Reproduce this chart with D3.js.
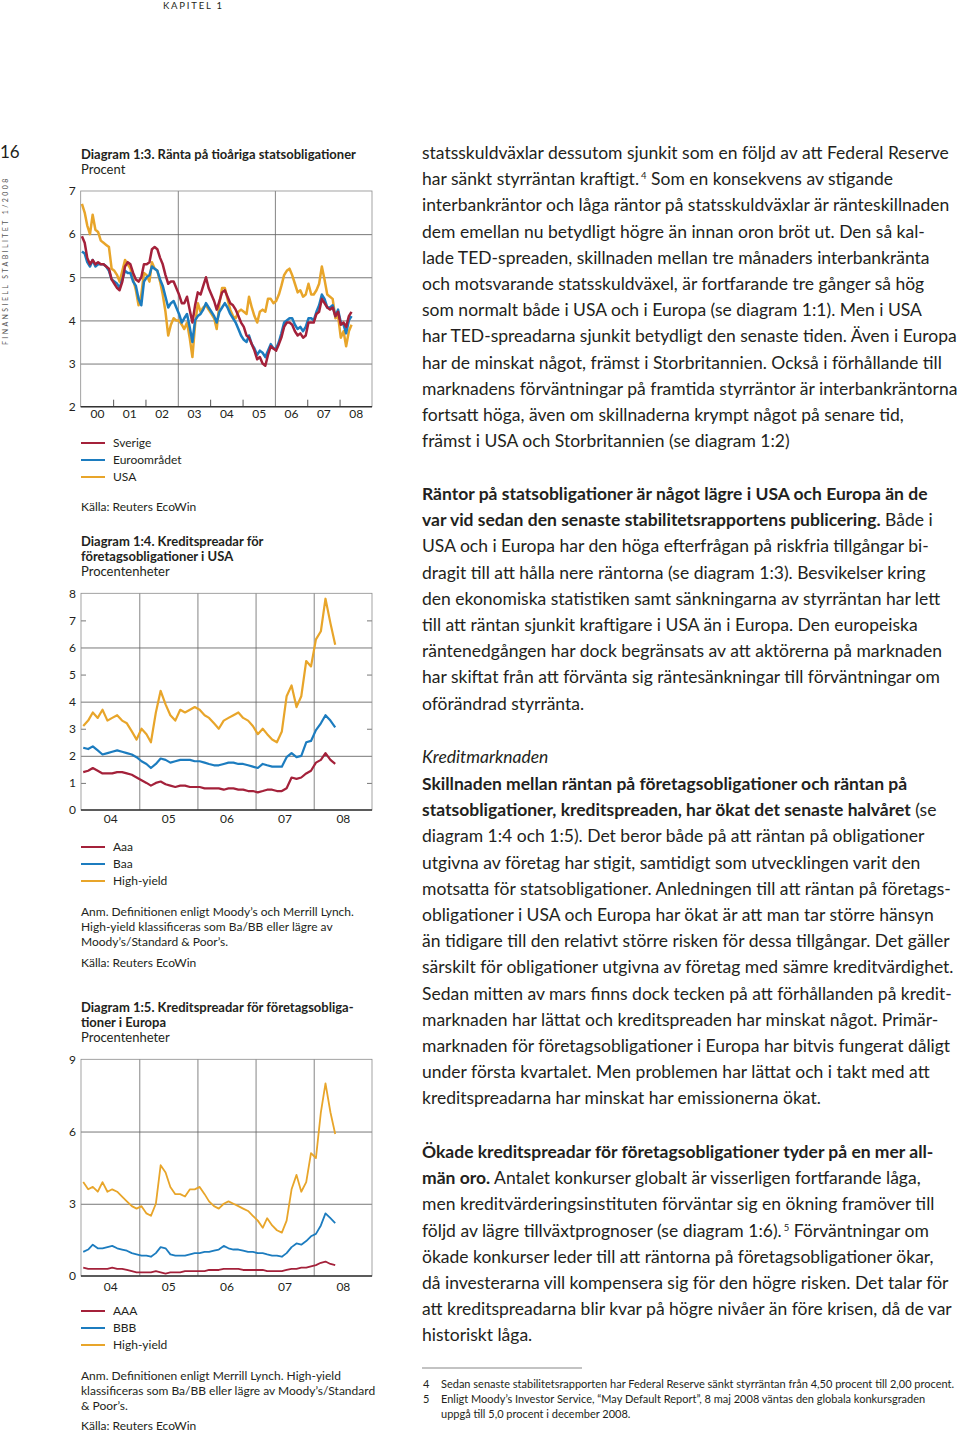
<!DOCTYPE html>
<html>
<head>
<meta charset="utf-8">
<script src="https://cdnjs.cloudflare.com/ajax/libs/d3/7.8.5/d3.min.js"></script>
<style>
  body { margin: 0; background: #fff; }
  svg text { font-family: Lato, "Open Sans", sans-serif; fill: #231f20; }
</style>
</head>
<body>
<div id="page"></div>
<script>
// ---------- data (monthly readings) ----------
// Diagram 1:3, Jan 2000 - May 2008, procent
const labels13 = ["00","01","02","03","04","05","06","07","08"];
const sverige10y = [
  5.95,5.8,5.45,5.3,5.4,5.3,5.35,5.3,5.3,5.25,5.2,4.95,
  4.85,4.75,4.7,4.9,5.25,5.35,5.3,5.1,4.95,4.9,5.0,5.3,
  5.3,5.35,5.65,5.7,5.65,5.45,5.3,5.05,4.85,4.9,4.9,4.75,
  4.6,4.4,4.4,4.55,4.25,3.95,4.35,4.65,4.6,4.8,5.0,4.75,
  4.6,4.45,4.25,4.45,4.65,4.7,4.55,4.4,4.35,4.25,4.1,3.95,
  3.85,3.65,3.6,3.45,3.3,3.1,3.15,3.0,2.95,3.2,3.4,3.35,
  3.3,3.45,3.6,3.85,3.95,3.95,3.9,3.75,3.65,3.7,3.6,3.65,
  3.95,3.95,3.95,4.15,4.2,4.5,4.4,4.3,4.25,4.3,4.1,4.2,
  3.9,3.95,3.85,4.1,4.2];
const euro10y = [
  5.6,5.55,5.35,5.25,5.4,5.25,5.3,5.3,5.3,5.25,5.15,4.95,
  4.9,4.85,4.75,4.95,5.15,5.1,5.1,4.9,4.8,4.5,4.35,4.9,
  5.0,5.05,5.25,5.2,5.15,4.95,4.8,4.55,4.3,4.4,4.45,4.3,
  4.15,3.95,4.05,4.15,3.85,3.5,4.0,4.1,4.15,4.25,4.4,4.3,
  4.2,4.1,3.95,4.2,4.3,4.4,4.3,4.15,4.05,3.95,3.8,3.65,
  3.55,3.5,3.65,3.45,3.35,3.2,3.3,3.25,3.15,3.3,3.45,3.35,
  3.35,3.5,3.7,3.95,4.0,4.05,4.05,3.9,3.8,3.85,3.75,3.85,
  4.05,4.05,4.0,4.2,4.35,4.6,4.5,4.3,4.3,4.35,4.1,4.25,
  3.95,3.9,3.7,4.0,4.1];
const usa10y = [
  6.7,6.5,6.2,6.0,6.45,6.1,6.05,5.85,5.8,5.75,5.7,5.2,
  5.15,5.05,4.9,5.15,5.4,5.3,5.2,4.95,4.7,4.35,4.6,5.1,
  5.05,4.9,5.35,5.2,5.15,4.9,4.6,4.2,3.65,3.9,4.05,4.0,
  4.0,3.9,3.8,3.95,3.6,3.15,3.9,4.4,4.2,4.3,4.35,4.25,
  4.15,4.05,3.8,4.4,4.75,4.75,4.5,4.25,4.1,4.05,4.2,4.25,
  4.2,4.15,4.55,4.3,4.1,3.95,4.2,4.25,4.2,4.5,4.5,4.4,
  4.45,4.6,4.8,5.05,5.15,5.2,5.05,4.85,4.65,4.7,4.55,4.6,
  4.85,4.6,4.6,4.7,4.85,5.25,4.95,4.6,4.55,4.5,4.05,4.1,
  3.6,3.75,3.4,3.75,3.9];

// Diagram 1:4, Jan 2004 - May 2008, procentenheter
const labels14 = ["04","05","06","07","08"];
const usAaa = [
  1.4,1.45,1.55,1.45,1.35,1.35,1.35,1.4,1.4,1.35,1.3,1.2,
  1.1,1.0,0.9,1.0,1.05,0.95,0.9,0.85,0.9,0.9,0.85,0.85,
  0.85,0.8,0.8,0.8,0.8,0.75,0.8,0.8,0.75,0.75,0.7,0.7,
  0.65,0.7,0.75,0.75,0.7,0.7,0.8,1.2,1.15,1.2,1.35,1.45,
  1.75,1.85,2.1,1.85,1.7];
const usBaa = [
  2.3,2.25,2.35,2.2,2.05,2.1,2.15,2.2,2.15,2.1,2.05,1.95,
  1.8,1.7,1.55,1.7,1.9,1.85,1.75,1.8,1.85,1.85,1.85,1.8,
  1.8,1.75,1.7,1.65,1.65,1.7,1.75,1.75,1.7,1.7,1.65,1.6,
  1.55,1.7,1.65,1.6,1.6,1.6,1.95,2.1,1.95,2.0,2.5,2.55,
  2.95,3.2,3.5,3.3,3.05];
const usHighYield = [
  3.1,3.3,3.6,3.4,3.7,3.3,3.4,3.5,3.3,3.2,2.9,2.6,
  3.0,2.8,2.5,3.6,4.4,3.9,3.5,3.3,3.7,3.6,3.7,3.8,
  3.7,3.5,3.4,3.2,3.0,3.3,3.4,3.5,3.6,3.4,3.3,3.1,
  2.8,3.0,2.8,2.6,2.5,2.9,4.2,4.6,3.8,4.2,5.5,5.3,
  6.3,6.6,7.8,6.9,6.1];

// Diagram 1:5, Jan 2004 - May 2008, procentenheter
const labels15 = ["04","05","06","07","08"];
const euAAA = [
  0.35,0.3,0.3,0.3,0.3,0.3,0.35,0.3,0.3,0.25,0.2,0.15,
  0.15,0.15,0.15,0.2,0.15,0.1,0.15,0.15,0.15,0.2,0.2,0.2,
  0.2,0.2,0.25,0.25,0.25,0.3,0.3,0.3,0.3,0.25,0.25,0.25,
  0.25,0.25,0.2,0.2,0.2,0.2,0.25,0.3,0.3,0.35,0.35,0.4,
  0.45,0.55,0.6,0.5,0.45];
const euBBB = [
  1.0,1.1,1.3,1.15,1.15,1.2,1.25,1.15,1.1,1.05,0.95,0.9,
  0.85,0.85,0.8,0.95,1.2,1.15,0.9,0.85,0.85,0.85,0.9,0.95,
  0.95,1.0,1.0,1.05,1.1,1.25,1.15,1.1,1.1,1.05,1.0,1.0,
  0.95,0.95,0.9,0.85,0.85,0.8,0.95,1.2,1.35,1.3,1.45,1.65,
  1.75,2.1,2.6,2.4,2.2];
const euHighYield = [
  3.9,3.6,3.7,3.5,3.9,3.5,3.6,3.5,3.3,3.1,2.9,2.8,
  2.9,2.6,2.5,3.0,4.6,4.3,3.7,3.4,3.4,3.3,3.6,3.6,
  3.7,3.4,3.1,2.9,2.8,3.0,3.1,3.0,2.9,2.8,2.7,2.5,
  2.3,2.0,2.4,2.1,1.9,1.8,2.3,3.6,4.2,3.5,3.9,5.1,
  4.9,6.8,8.0,6.8,5.9];

const RED = "#a4213a", BLUE = "#1c7cbf", GOLD = "#e8a52a";

// ---------- text ----------
const para1 = [
  "statsskuldväxlar dessutom sjunkit som en följd av att Federal Reserve",
  "har sänkt styrräntan kraftigt.^4 Som en konsekvens av stigande",
  "interbankräntor och låga räntor på statsskuldväxlar är ränteskillnaden",
  "dem emellan nu betydligt högre än innan oron bröt ut. Den så kal-",
  "lade TED-spreaden, skillnaden mellan tre månaders interbankränta",
  "och motsvarande statsskuldväxel, är fortfarande tre gånger så hög",
  "som normalt både i USA och i Europa (se diagram 1:1). Men i USA",
  "har TED-spreadarna sjunkit betydligt den senaste tiden. Även i Europa",
  "har de minskat något, främst i Storbritannien. Också i förhållande till",
  "marknadens förväntningar på framtida styrräntor är interbankräntorna",
  "fortsatt höga, även om skillnaderna krympt något på senare tid,",
  "främst i USA och Storbritannien (se diagram 1:2)"
];
const para2 = [
  "**Räntor på statsobligationer är något lägre i USA och Europa än de**",
  "**var vid sedan den senaste stabilitetsrapportens publicering.** Både i",
  "USA och i Europa har den höga efterfrågan på riskfria tillgångar bi-",
  "dragit till att hålla nere räntorna (se diagram 1:3). Besvikelser kring",
  "den ekonomiska statistiken samt sänkningarna av styrräntan har lett",
  "till att räntan sjunkit kraftigare i USA än i Europa. Den europeiska",
  "räntenedgången har dock begränsats av att aktörerna på marknaden",
  "har skiftat från att förvänta sig räntesänkningar till förväntningar om",
  "oförändrad styrränta."
];
const para3 = [
  "**Skillnaden mellan räntan på företagsobligationer och räntan på**",
  "**statsobligationer, kreditspreaden, har ökat det senaste halvåret** (se",
  "diagram 1:4 och 1:5). Det beror både på att räntan på obligationer",
  "utgivna av företag har stigit, samtidigt som utvecklingen varit den",
  "motsatta för statsobligationer. Anledningen till att räntan på företags-",
  "obligationer i USA och Europa har ökat är att man tar större hänsyn",
  "än tidigare till den relativt större risken för dessa tillgångar. Det gäller",
  "särskilt för obligationer utgivna av företag med sämre kreditvärdighet.",
  "Sedan mitten av mars finns dock tecken på att förhållanden på kredit-",
  "marknaden har lättat och kreditspreaden har minskat något. Primär-",
  "marknaden för företagsobligationer i Europa har bitvis fungerat dåligt",
  "under första kvartalet. Men problemen har lättat och i takt med att",
  "kreditspreadarna har minskat har emissionerna ökat."
];
const para4 = [
  "**Ökade kreditspreadar för företagsobligationer tyder på en mer all-**",
  "**män oro.** Antalet konkurser globalt är visserligen fortfarande låga,",
  "men kreditvärderingsinstituten förväntar sig en ökning framöver till",
  "följd av lägre tillväxtprognoser (se diagram 1:6).^5 Förväntningar om",
  "ökade konkurser leder till att räntorna på företagsobligationer ökar,",
  "då investerarna vill kompensera sig för den högre risken. Det talar för",
  "att kreditspreadarna blir kvar på högre nivåer än före krisen, då de var",
  "historiskt låga."
];

const svg = d3.select("#page").append("svg").attr("width", 960).attr("height", 1433);

function writeLines(lines, x, y0, lh, size) {
  lines.forEach((line, i) => {
    const t = svg.append("text").attr("x", x).attr("y", y0 + i * lh).style("font-size", size + "px");
    let bold = false, shift = 0;
    line.split(/(\*\*|\^\d)/).forEach(part => {
      if (part === "**") { bold = !bold; return; }
      if (!part) return;
      if (/^\^\d$/.test(part)) {
        t.append("tspan").attr("dx", 2).attr("dy", -6).style("font-size", "9.5px").text(part.slice(1));
        shift = 6;
        return;
      }
      const s = t.append("tspan").style("font-weight", bold ? 700 : 400).text(part);
      if (shift) { s.attr("dy", shift); shift = 0; }
    });
  });
}

// header and margin
svg.append("text").attr("x", 163).attr("y", 9).style("font-size", "9.5px").style("letter-spacing", "1.8px").text("KAPITEL 1");
svg.append("text").attr("x", 0).attr("y", 158).style("font-size", "17px").text("16");
svg.append("text").attr("transform", "translate(8,345) rotate(-90)").style("font-size", "7px")
  .style("letter-spacing", "2.4px").style("fill", "#555").text("FINANSIELL STABILITET 1/2008");

// body text
const LH = 26.2, BODY = 17.5;
writeLines(para1, 422, 159, LH, BODY);
writeLines(para2, 422, 500, LH, BODY);
svg.append("text").attr("x", 422).attr("y", 763).style("font-size", BODY + "px").style("font-style", "italic").text("Kreditmarknaden");
writeLines(para3, 422, 790, LH, BODY);
writeLines(para4, 422, 1158, LH, BODY);

// footnotes
svg.append("line").attr("x1", 422).attr("x2", 582).attr("y1", 1368).attr("y2", 1368).attr("stroke", "#555").attr("stroke-width", 0.7);
const fn = [
  ["4", "Sedan senaste stabilitetsrapporten har Federal Reserve sänkt styrräntan från 4,50 procent till 2,00 procent."],
  ["5", "Enligt Moody’s Investor Service, “May Default Report”, 8 maj 2008 väntas den globala konkursgraden"],
  ["", "uppgå till 5,0 procent i december 2008."]
];
fn.forEach((f, i) => {
  svg.append("text").attr("x", 423).attr("y", 1388 + i * 15).style("font-size", "11px").text(f[0]);
  svg.append("text").attr("x", 441).attr("y", 1388 + i * 15).style("font-size", "11px").text(f[1]);
});

// ---------- charts ----------
function chart(o) {
  const g = svg.append("g");
  const x = d3.scaleUtc()
    .domain([new Date(Date.UTC(o.y0, 0, 1)), new Date(Date.UTC(o.y1 + 1, 0, 1))])
    .range([o.left, o.right]);
  const y = d3.scaleLinear().domain(o.yDomain).range([o.bottom, o.top]);
  const w = o.right - o.left, h = o.bottom - o.top;
  const yearStart = yr => new Date(Date.UTC(yr, 0, 1));

  // titles
  o.title.forEach((t, i) => g.append("text").attr("x", 81).attr("y", o.titleY + i * 15)
    .style("font-size", "13px").style("font-weight", 700).text(t));
  g.append("text").attr("x", 81).attr("y", o.titleY + o.title.length * 15).style("font-size", "13px").text(o.unit);

  // grid
  g.append("g").attr("transform", `translate(${o.left},0)`)
    .call(d3.axisLeft(y).tickValues(o.gridY).tickSize(-w).tickFormat(""))
    .call(s => s.select(".domain").remove())
    .selectAll("line").attr("stroke", "#555").attr("stroke-width", 0.8);
  g.append("g").attr("transform", `translate(0,${o.bottom})`)
    .call(d3.axisBottom(x).tickValues(o.gridX.map(yearStart)).tickSize(-h).tickFormat(""))
    .call(s => s.select(".domain").remove())
    .selectAll("line").attr("stroke", "#666").attr("stroke-width", 0.8);
  if (o.minorY) {
    [[d3.axisLeft, o.left], [d3.axisRight, o.right]].forEach(([ax, pos]) => {
      g.append("g").attr("transform", `translate(${pos},0)`)
        .call(ax(y).tickValues(o.minorY).tickSize(-5).tickFormat(""))
        .call(s => s.select(".domain").remove())
        .selectAll("line").attr("stroke", "#555").attr("stroke-width", 0.8);
    });
  }
  if (o.tickX) {
    g.append("g").attr("transform", `translate(0,${o.bottom})`)
      .call(d3.axisBottom(x).tickValues(o.tickX.map(yearStart)).tickSize(-7).tickFormat(""))
      .call(s => s.select(".domain").remove())
      .selectAll("line").attr("stroke", "#444").attr("stroke-width", 0.9);
  }
  g.append("rect").attr("x", o.left).attr("y", o.top).attr("width", w).attr("height", h)
    .attr("fill", "none").attr("stroke", "#8c8c8c").attr("stroke-width", 0.8);

  // series
  const start = yearStart(o.y0);
  const line = d3.line()
    .x((d, i) => x(d3.utcDay.offset(d3.utcMonth.offset(start, i), 14)))
    .y(d => y(d));
  o.series.slice().reverse().forEach(s => {
    g.append("path").datum(s.values).attr("d", line).attr("fill", "none")
      .attr("stroke", s.color).attr("stroke-width", o.lw).attr("stroke-linejoin", "round");
  });

  // bottom axis line
  g.append("line").attr("x1", o.left).attr("x2", o.right).attr("y1", o.bottom).attr("y2", o.bottom)
    .attr("stroke", "#333").attr("stroke-width", 1.6);

  // tick labels
  g.append("g").attr("transform", `translate(${o.left},0)`)
    .call(d3.axisLeft(y).tickValues(o.yTicks).tickSize(0).tickPadding(5).tickFormat(d3.format("d")))
    .call(s => s.select(".domain").remove())
    .selectAll("text").style("font-size", "12px").style("font-family", "Lato, sans-serif").attr("fill", "#333");
  const mids = o.xLabels.map((l, i) => new Date(Date.UTC(o.y0 + i, 6, 2)));
  g.append("g").attr("transform", `translate(0,${o.bottom})`)
    .call(d3.axisBottom(x).tickValues(mids).tickSize(0).tickPadding(o.xPad).tickFormat((d, i) => o.xLabels[i]))
    .call(s => s.select(".domain").remove())
    .selectAll("text").style("font-size", "12px").style("font-family", "Lato, sans-serif").attr("fill", "#333");

  // legend
  o.series.forEach((s, i) => {
    const ly = o.legendY + i * 17;
    g.append("line").attr("x1", 81).attr("x2", 105).attr("y1", ly - 4).attr("y2", ly - 4)
      .attr("stroke", s.color).attr("stroke-width", 2);
    g.append("text").attr("x", 113).attr("y", ly).style("font-size", "12px").text(s.name);
  });
  o.notes.forEach((n, i) => g.append("text").attr("x", 81).attr("y", o.notesY + i * 15)
    .style("font-size", "12px").text(n));
  g.append("text").attr("x", 81).attr("y", o.sourceY).style("font-size", "12px").text("Källa: Reuters EcoWin");
}

chart({
  title: ["Diagram 1:3. Ränta på tioåriga statsobligationer"], unit: "Procent", titleY: 158.5,
  left: 80.7, right: 372, top: 191, bottom: 406.7, y0: 2000, y1: 2008,
  yDomain: [2, 7], yTicks: [2, 3, 4, 5, 6, 7], gridY: [3, 4, 5, 6], gridX: [2003, 2006],
  tickX: [2001, 2002, 2004, 2005, 2007, 2008], xLabels: labels13, xPad: 3, lw: 2.5,
  series: [
    { name: "Sverige", color: RED, values: sverige10y },
    { name: "Euroområdet", color: BLUE, values: euro10y },
    { name: "USA", color: GOLD, values: usa10y }
  ],
  legendY: 447, notes: [], notesY: 0, sourceY: 511
});

chart({
  title: ["Diagram 1:4. Kreditspreadar för", "företagsobligationer i USA"], unit: "Procentenheter", titleY: 546,
  left: 81, right: 372, top: 593.3, bottom: 810, y0: 2004, y1: 2008,
  yDomain: [0, 8], yTicks: [0, 1, 2, 3, 4, 5, 6, 7, 8], gridY: [2, 4, 6], minorY: [1, 3, 5, 7],
  gridX: [2005, 2006, 2007, 2008], xLabels: labels14, xPad: 4, lw: 2.2,
  series: [
    { name: "Aaa", color: RED, values: usAaa },
    { name: "Baa", color: BLUE, values: usBaa },
    { name: "High-yield", color: GOLD, values: usHighYield }
  ],
  legendY: 851,
  notes: ["Anm. Definitionen enligt Moody’s och Merrill Lynch.",
          "High-yield klassificeras som Ba/BB eller lägre av",
          "Moody’s/Standard & Poor’s."],
  notesY: 916, sourceY: 967
});

chart({
  title: ["Diagram 1:5. Kreditspreadar för företagsobliga-", "tioner i Europa"], unit: "Procentenheter", titleY: 1012,
  left: 81, right: 372, top: 1059.3, bottom: 1276, y0: 2004, y1: 2008,
  yDomain: [0, 9], yTicks: [0, 3, 6, 9], gridY: [3, 6],
  gridX: [2005, 2006, 2007, 2008], xLabels: labels15, xPad: 6, lw: 1.8,
  series: [
    { name: "AAA", color: RED, values: euAAA },
    { name: "BBB", color: BLUE, values: euBBB },
    { name: "High-yield", color: GOLD, values: euHighYield }
  ],
  legendY: 1315,
  notes: ["Anm. Definitionen enligt Merrill Lynch. High-yield",
          "klassificeras som Ba/BB eller lägre av Moody’s/Standard",
          "& Poor’s."],
  notesY: 1380, sourceY: 1430
});
</script>
</body>
</html>
